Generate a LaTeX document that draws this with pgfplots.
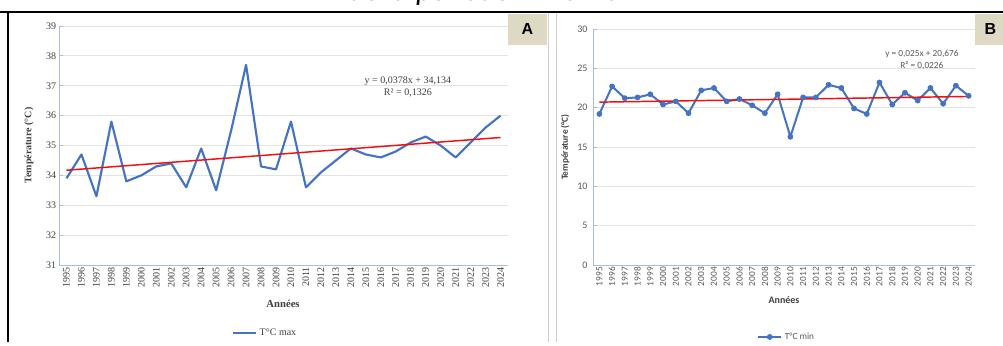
\documentclass[border=0pt]{standalone}
\usepackage{pgfplots}
\pgfplotsset{compat=1.18}
\usepackage{fontspec}
\setmainfont{Liberation Serif}
\newfontfamily\calib{Carlito}
\newfontfamily\arialf{Liberation Sans}
\definecolor{xlblue}{HTML}{4472C4}
\definecolor{trendred}{HTML}{F01010}
\definecolor{gridc}{HTML}{E3E3E3}
\definecolor{axc}{HTML}{A9BCDB}
\definecolor{tan}{HTML}{DDD9C3}
\definecolor{txtA}{HTML}{404040}
\definecolor{txtB}{HTML}{595959}
\definecolor{framec}{HTML}{D0D0D0}
\begin{document}
\begin{tikzpicture}
\begin{scope}[x=0.75pt,y=0.75pt]
\clip (0,0) rectangle (1003,342);
\fill[white] (0,0) rectangle (1003,342);
% cut caption
\node[font=\calib\itshape\fontsize{23}{25}\selectfont, anchor=base, inner sep=0pt] at (500,341.5) {de la période 1995-2024};
% frames
\draw[framec, line width=0.75pt] (548,330) -- (548,0);
\draw[framec, line width=0.75pt] (556,330) -- (556,0);
\draw[black, line width=1.6pt] (0,330) -- (1003,330);
\draw[black, line width=1.6pt] (8,330) -- (8,0);
% label boxes
\fill[tan] (508,297) rectangle (547,328);
\node[font=\arialf\bfseries\fontsize{12}{14}\selectfont] at (527.5,312.5) {A};
\fill[tan] (975,297) rectangle (1010,328);
\node[font=\arialf\bfseries\fontsize{12}{14}\selectfont] at (990.5,312.5) {B};
\end{scope}

% ---------- Panel A ----------
\begin{axis}[
  at={(44.25pt,57.75pt)}, anchor=south west, scale only axis,
  width=336.75pt, height=179.25pt,
  xmin=1994.5, xmax=2024.5, ymin=31, ymax=39,
  xtick={1995,...,2024}, ytick={31,...,39},
  /pgf/number format/1000 sep={},
  /pgf/number format/assume math mode=true,
  axis lines*=left,
  axis line style={axc, line width=0.6pt},
  ymajorgrids, grid style={gridc, line width=0.6pt},
  tick style={axc, line width=0.6pt},
  major tick length=3pt,
  xtick style={draw=none},
  tick label style={font=\fontsize{7.5}{8}\selectfont, text=txtA},
  xticklabel style={rotate=90, anchor=east, inner sep=1.5pt},
  yticklabel style={inner sep=2pt},
  xlabel={Années}, ylabel={Température (°C)},
  xlabel style={font=\bfseries\fontsize{8}{9}\selectfont, text=txtA, at={(axis description cs:0.499,-0.163)}, anchor=center},
  ylabel style={font=\bfseries\fontsize{7.5}{9}\selectfont, text=txtA, at={(axis description cs:-0.067,0.5)}, anchor=center, rotate=0},
  legend style={at={(axis description cs:0.46,-0.285)}, anchor=center, draw=none, fill=none, font=\fontsize{7.5}{8}\selectfont, text=txtA, legend cell align=left, inner sep=1pt},
  clip=false,
]
\addplot[xlblue, line width=1.6pt, line join=round] coordinates {
(1995,33.9) (1996,34.7) (1997,33.3) (1998,35.8) (1999,33.8) (2000,34.0)
(2001,34.3) (2002,34.4) (2003,33.6) (2004,34.9) (2005,33.5) (2006,35.5)
(2007,37.7) (2008,34.3) (2009,34.2) (2010,35.8) (2011,33.6) (2012,34.1)
(2013,34.5) (2014,34.9) (2015,34.7) (2016,34.6) (2017,34.8) (2018,35.1)
(2019,35.3) (2020,35.0) (2021,34.6) (2022,35.1) (2023,35.6) (2024,36.0)};
\addlegendentry{T°C max}
\addplot[trendred, line width=1.1pt, forget plot] coordinates {(1995,34.172) (2024,35.268)};
\node[font=\fontsize{7.5}{9}\selectfont, text=txtA, align=center] at (axis description cs:0.777,0.745) {y = 0,0378x + 34,134\\R² = 0,1326};
\end{axis}

% ---------- Panel B ----------
\begin{axis}[
  at={(444.75pt,57.75pt)}, anchor=south west, scale only axis,
  width=286.5pt, height=177pt,
  xmin=1994.5, xmax=2024.5, ymin=0, ymax=30,
  xtick={1995,...,2024}, ytick={0,5,...,30},
  /pgf/number format/1000 sep={},
  /pgf/number format/assume math mode=true,
  axis lines*=left,
  axis line style={axc, line width=0.6pt},
  ymajorgrids, grid style={gridc, line width=0.6pt},
  tick style={axc, line width=0.6pt},
  major tick length=3pt,
  xtick style={draw=none},
  tick label style={font=\calib\fontsize{7}{8}\selectfont, text=txtB},
  yticklabel style={font=\calib\fontsize{7.5}{8}\selectfont, inner sep=4pt},
  xticklabel style={rotate=90, anchor=east, inner sep=1.5pt},
  xlabel={Années}, ylabel={Température (°C)},
  xlabel style={font=\calib\bfseries\fontsize{7.5}{9}\selectfont, text=txtA, at={(axis description cs:0.5,-0.148)}, anchor=center},
  ylabel style={font=\calib\bfseries\fontsize{7}{9}\selectfont, text=txtA, at={(axis description cs:-0.073,0.5)}, anchor=center, rotate=0},
  legend style={at={(axis description cs:0.508,-0.305)}, anchor=center, draw=none, fill=none, font=\calib\fontsize{7}{8}\selectfont, text=txtB, legend cell align=left, inner sep=1pt},
  clip=false,
]
\addplot[xlblue, line width=1.5pt, line join=round, mark=*, mark size=1.9pt, mark options={fill=xlblue, draw=xlblue, line width=0.5pt}] coordinates {
(1995,19.2) (1996,22.7) (1997,21.2) (1998,21.3) (1999,21.7) (2000,20.4)
(2001,20.8) (2002,19.3) (2003,22.2) (2004,22.5) (2005,20.8) (2006,21.1)
(2007,20.3) (2008,19.3) (2009,21.7) (2010,16.3) (2011,21.3) (2012,21.3)
(2013,22.9) (2014,22.5) (2015,19.9) (2016,19.2) (2017,23.2) (2018,20.4)
(2019,21.9) (2020,20.9) (2021,22.5) (2022,20.5) (2023,22.8) (2024,21.5)};
\addlegendentry{T°C min}
\addplot[trendred, line width=1.1pt, forget plot] coordinates {(1995,20.701) (2024,21.426)};
\node[font=\calib\fontsize{7}{8.5}\selectfont, text=txtB, align=center] at (axis description cs:0.861,0.869) {y = 0,025x + 20,676\\R² = 0,0226};
\end{axis}
\end{tikzpicture}
\end{document}
